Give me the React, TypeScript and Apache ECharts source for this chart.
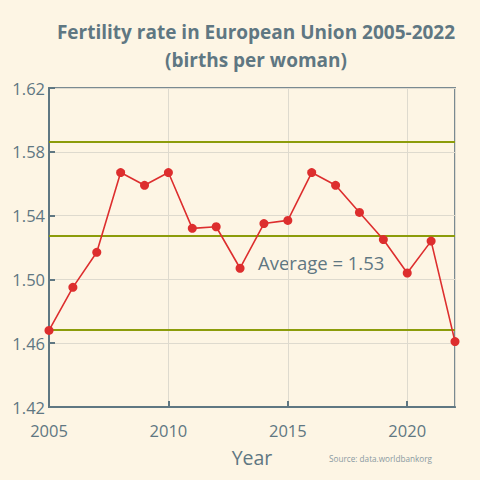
import React, { useEffect, useRef } from "react";
import * as echarts from "echarts";

const years = [2005, 2006, 2007, 2008, 2009, 2010, 2011, 2012, 2013, 2014, 2015, 2016, 2017, 2018, 2019, 2020, 2021, 2022];
const fertility = [1.468, 1.495, 1.517, 1.567, 1.559, 1.567, 1.532, 1.533, 1.507, 1.535, 1.537, 1.567, 1.559, 1.542, 1.525, 1.504, 1.524, 1.461];
const refLines = [1.5865, 1.5275, 1.4685];
const yTicks = { min: 1.42, max: 1.62, interval: 0.04 };
const xTicks = { min: 2005, max: 2022, interval: 5 };
const averageLabel = "Average = 1.53";
const titleText = "Fertility rate in European Union 2005-2022\n(births per woman)";
const sourceText = "Source: data.worldbankorg";

const FONT = "'Open Sans', 'Noto Sans', sans-serif";
const AXIS = "#5f7782";

export default function App() {
  const ref = useRef<HTMLDivElement>(null);
  useEffect(() => {
    if (!ref.current) return;
    const chart = echarts.init(ref.current, null, { renderer: "svg" });
    chart.setOption({
      animation: false,
      backgroundColor: "#fdf5e4",
      textStyle: { fontFamily: FONT },
      title: {
        text: titleText,
        left: 251,
        top: 13,
        textAlign: "center",
        textStyle: { fontFamily: FONT, fontSize: 19, fontWeight: "bold", color: AXIS, lineHeight: 28 },
      },
      grid: { left: 49, right: 25, top: 88, bottom: 73, show: true, borderColor: "#7a8a91", borderWidth: 2, backgroundColor: "transparent" },
      xAxis: {
        type: "value",
        min: xTicks.min,
        max: xTicks.max,
        interval: xTicks.interval,
        name: "Year",
        nameLocation: "middle",
        nameGap: 40,
        nameTextStyle: { fontFamily: FONT, fontSize: 19.5, color: AXIS },
        axisLine: { lineStyle: { color: AXIS, width: 2 } },
        axisTick: { inside: true, length: 6, lineStyle: { color: AXIS, width: 2 } },
        axisLabel: { fontFamily: FONT, fontSize: 16.5, color: AXIS, margin: 15, showMaxLabel: false, formatter: (v: number) => String(v) },
        splitLine: { show: true, lineStyle: { color: "#dedace", width: 1 } },
      },
      yAxis: {
        type: "value",
        min: yTicks.min,
        max: yTicks.max,
        interval: yTicks.interval,
        axisLine: { show: true, lineStyle: { color: AXIS, width: 2 } },
        axisTick: { show: true, inside: true, length: 6, lineStyle: { color: AXIS, width: 2 } },
        axisLabel: { fontFamily: FONT, fontSize: 16.5, color: AXIS, margin: 4, formatter: (v: number) => v.toFixed(2) },
        splitLine: { show: true, lineStyle: { color: "#dedace", width: 1 } },
      },
      graphic: [
        { type: "text", left: 258, top: 253, style: { text: averageLabel, fontFamily: FONT, fontSize: 18.5, fill: AXIS } },
        { type: "text", left: 329, top: 454, style: { text: sourceText, fontFamily: FONT, fontSize: 8.2, fill: "#8a9aa2" } },
      ],
      series: [
        {
          type: "line",
          data: years.map((y, i) => [y, fertility[i]]),
          symbol: "circle",
          symbolSize: 9,
          itemStyle: { color: "#dd2e2e" },
          lineStyle: { color: "#dd2e2e", width: 1.6 },
          z: 5,
          markLine: {
            silent: true,
            precision: 4,
            symbol: ["none", "none"],
            label: { show: false },
            lineStyle: { color: "#8c9c0a", width: 2, type: "solid" },
            data: refLines.map((v) => ({ yAxis: v })),
            z: 3,
          },
        },
      ],
    });
    return () => chart.dispose();
  }, []);
  return <div ref={ref} style={{ position: "fixed", left: 0, top: 0, width: 480, height: 480 }} />;
}
